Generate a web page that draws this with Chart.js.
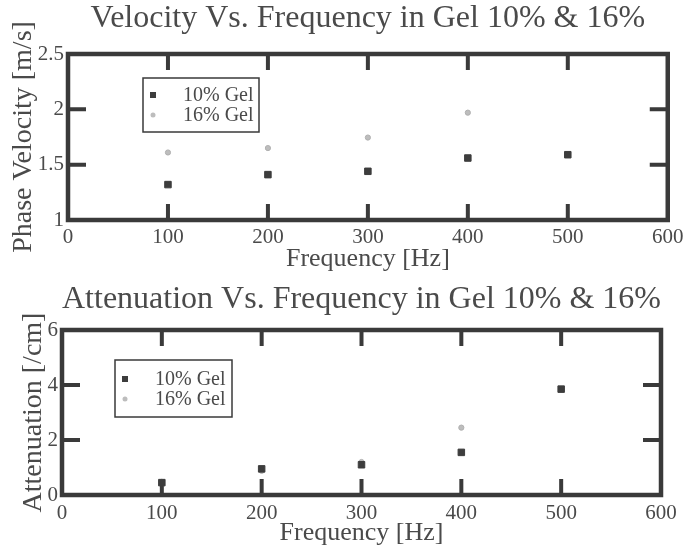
<!DOCTYPE html>
<html>
<head>
<meta charset="utf-8">
<script src="https://cdn.jsdelivr.net/npm/chart.js@4/dist/chart.umd.min.js"></script>
<style>
  html,body{margin:0;padding:0;background:#fff;}
  #wrap{position:relative;width:690px;height:550px;overflow:hidden;}
  canvas{position:absolute;left:0;}
  #c1{top:0;}
  #c2{top:280px;}
</style>
</head>
<body>
<div id="wrap">
  <canvas id="c1" width="690" height="280"></canvas>
  <canvas id="c2" width="690" height="270"></canvas>
</div>
<script>
// data
const freqs=[100,200,300,400,500];
const vel10=[1.32,1.41,1.44,1.56,1.59];
const vel16=[1.61,1.65,1.745,1.97];
const att10=[0.45,0.95,1.1,1.55,3.85];
const att16=[0.48,0.88,1.2,2.45];
const seriesLabels=['10% Gel','16% Gel'];
const xTicks={min:0,max:600,step:100};
const velTicks={min:1,max:2.5,step:0.5};
const attTicks={min:0,max:6,step:2};

const SERIF="'Liberation Serif','Times New Roman',serif";
const TXT='#4a4a4a';
const INK='#3a3a3a';

function pts(xs,ys){return ys.map((y,i)=>({x:xs[i],y}));}

// box round the plot with inward ticks on all four sides
const framePlugin={
  id:'frame',
  beforeDatasetsDraw(chart){
    const {ctx,chartArea:a,scales}=chart;
    ctx.save();
    ctx.strokeStyle=INK;
    ctx.lineWidth=4.5;
    ctx.lineJoin='miter';
    ctx.strokeRect(a.left,a.top,a.right-a.left,a.bottom-a.top);
    ctx.lineWidth=4;
    const xs=scales.x, ys=scales.y;
    xs.ticks.forEach(t=>{
      if(t.value<=xs.min||t.value>=xs.max) return;
      const p=xs.getPixelForValue(t.value);
      ctx.beginPath();
      ctx.moveTo(p,a.bottom);ctx.lineTo(p,a.bottom-16);
      ctx.moveTo(p,a.top);ctx.lineTo(p,a.top+16);
      ctx.stroke();
    });
    ys.ticks.forEach(t=>{
      if(t.value<=ys.min||t.value>=ys.max) return;
      const p=ys.getPixelForValue(t.value);
      ctx.beginPath();
      ctx.moveTo(a.left,p);ctx.lineTo(a.left+18,p);
      ctx.moveTo(a.right,p);ctx.lineTo(a.right-18,p);
      ctx.stroke();
    });
    ctx.restore();
  }
};

// legend box inside the plot, offset from the plot corner
const boxLegend={
  id:'boxLegend',
  afterDraw(chart,args,o){
    const {ctx,chartArea:a}=chart;
    const x0=a.left+o.dx, y0=a.top+o.dy;
    ctx.save();
    ctx.strokeStyle=INK;
    ctx.lineWidth=1.5;
    ctx.strokeRect(x0,y0,o.w,o.h);
    ctx.font='20px '+SERIF;
    ctx.textBaseline='middle';
    ctx.textAlign='left';
    chart.data.datasets.forEach((ds,i)=>{
      const cy=y0+o.row0+i*20;
      const mx=x0+10;
      ctx.fillStyle=ds.backgroundColor;
      if(ds.pointStyle==='rect'){
        ctx.fillRect(mx-3,cy-3,6,6);
      }else{
        ctx.beginPath();ctx.arc(mx,cy,2.5,0,Math.PI*2);ctx.fill();
      }
      ctx.fillStyle=TXT;
      ctx.fillText(ds.label,x0+o.tx,cy+1);
    });
    ctx.restore();
  }
};

function makeChart(id,cfg){
  const datasets=[
    {label:seriesLabels[0],data:pts(freqs,cfg.a),pointStyle:'rect',pointRadius:4.6,
     backgroundColor:'#3d3d3d',borderColor:'#3d3d3d',borderWidth:1},
    {label:seriesLabels[1],data:pts(freqs,cfg.b),pointStyle:'circle',pointRadius:2.6,
     backgroundColor:'#bdbdbd',borderColor:'#b0b0b0',borderWidth:1}
  ];
  return new Chart(document.getElementById(id),{
    type:'scatter',
    data:{datasets},
    plugins:[framePlugin,boxLegend],
    options:{
      responsive:false,animation:false,
      layout:{padding:{left:0,right:cfg.padRight,top:0,bottom:0}},
      plugins:{
        legend:{display:false},tooltip:{enabled:false},
        title:{display:true,fullSize:false,text:cfg.title,color:TXT,
          font:{family:SERIF,size:32,weight:'normal',lineHeight:1},
          padding:{top:cfg.titleTop,bottom:cfg.titleBottom}},
        boxLegend:cfg.legend
      },
      scales:{
        x:{type:'linear',min:xTicks.min,max:xTicks.max,
          ticks:{stepSize:xTicks.step,color:TXT,padding:cfg.xTickPad,font:{family:SERIF,size:21,lineHeight:1}},
          grid:{display:false,drawTicks:false},border:{display:false},
          title:{display:true,text:'Frequency [Hz]',color:TXT,
            font:{family:SERIF,size:26,lineHeight:1},padding:{top:0,bottom:cfg.xTitlePad}},
          afterFit:s=>{s.height=cfg.xH;}
        },
        y:{type:'linear',min:cfg.yT.min,max:cfg.yT.max,
          ticks:{stepSize:cfg.yT.step,color:TXT,padding:4,font:{family:SERIF,size:21,lineHeight:1},
            callback:v=>String(v)},
          grid:{display:false,drawTicks:false},border:{display:false},
          title:{display:true,text:cfg.yTitle,color:TXT,
            font:{family:SERIF,size:28,lineHeight:1},padding:{top:cfg.yTitlePad,bottom:0}},
          afterFit:s=>{s.width=cfg.yW;}
        }
      }
    }
  });
}

makeChart('c1',{
  a:vel10,b:vel16,yT:velTicks,
  title:'Velocity Vs. Frequency in Gel 10% & 16%',
  yTitle:'Phase Velocity [m/s]',
  padRight:20,titleTop:3,titleBottom:19,
  xH:60,xTickPad:6.5,xTitlePad:8,yW:68,yTitlePad:10,
  legend:{dx:75,dy:24,w:116,h:54,row0:17,tx:40}
});
makeChart('c2',{
  a:att10,b:att16,yT:attTicks,
  title:'Attenuation Vs. Frequency in Gel 10% & 16%',
  yTitle:'Attenuation [/cm]',
  padRight:29,titleTop:4,titleBottom:14,
  xH:55,xTickPad:7.5,xTitlePad:3.5,yW:62,yTitlePad:20,
  legend:{dx:53,dy:30,w:117,h:57,row0:19,tx:40}
});
</script>
</body>
</html>
